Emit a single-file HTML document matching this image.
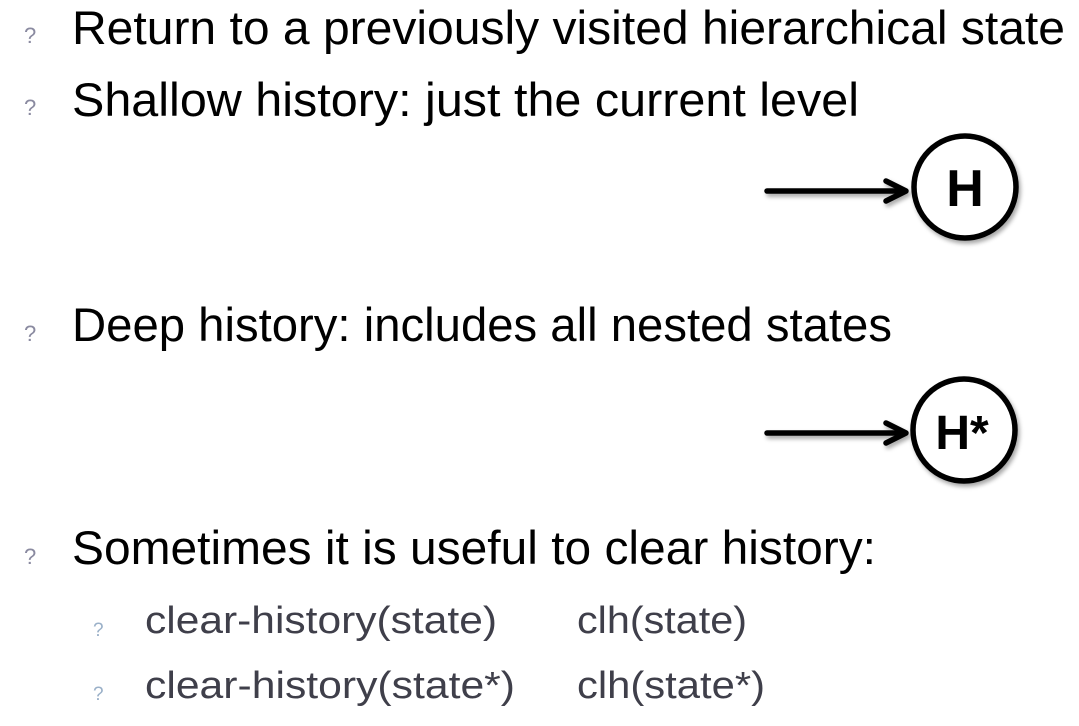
<!DOCTYPE html>
<html><head><meta charset="utf-8"><style>
html,body{margin:0;padding:0;background:#fff;}
svg{display:block;}
text{font-family:"Liberation Sans",sans-serif;}
</style></head><body>
<svg width="1079" height="726" viewBox="0 0 1079 726" xmlns="http://www.w3.org/2000/svg">
<defs>
<filter id="sh" x="-20%" y="-20%" width="140%" height="140%"><feDropShadow dx="2" dy="3" stdDeviation="2" flood-color="#000" flood-opacity="0.35"/></filter>
</defs>
<g fill="#8a8aa0" font-size="22">
<text x="24" y="43">?</text>
<text x="24" y="115">?</text>
<text x="24" y="341">?</text>
<text x="24" y="564">?</text>
<text x="93" y="636" font-size="19" fill="#9ab0c8">?</text>
<text x="93" y="700" font-size="19" fill="#9ab0c8">?</text>
</g>
<g fill="#000" font-size="47">
<text x="72" y="44" textLength="993" lengthAdjust="spacingAndGlyphs">Return to a previously visited hierarchical state</text>
<text x="72" y="116" textLength="787" lengthAdjust="spacingAndGlyphs">Shallow history: just the current level</text>
<text x="72" y="341" textLength="820" lengthAdjust="spacingAndGlyphs">Deep history: includes all nested states</text>
<text x="72" y="564" textLength="804" lengthAdjust="spacingAndGlyphs">Sometimes it is useful to clear history:</text>
</g>
<g fill="#3f3f4a" font-size="38">
<text x="145" y="633" textLength="352" lengthAdjust="spacingAndGlyphs">clear-history(state)</text>
<text x="577" y="633" textLength="170" lengthAdjust="spacingAndGlyphs">clh(state)</text>
<text x="145" y="698" textLength="370" lengthAdjust="spacingAndGlyphs">clear-history(state*)</text>
<text x="577" y="698" textLength="188" lengthAdjust="spacingAndGlyphs">clh(state*)</text>
</g>
<g filter="url(#sh)" stroke="#000" stroke-width="5.5" fill="none" stroke-linecap="round" stroke-linejoin="round">
<line x1="767" y1="191" x2="905" y2="191"/>
<polyline points="886,181 906,191 886,201"/>
<circle cx="965" cy="187" r="51" fill="#fff"/>
<line x1="767" y1="433" x2="905" y2="433"/>
<polyline points="886,423 906,433 886,443"/>
<circle cx="964" cy="430" r="51" fill="#fff"/>
</g>
<text x="965" y="206" font-size="52" font-weight="bold" text-anchor="middle" fill="#000">H</text>
<text x="962" y="449" font-size="48" font-weight="bold" text-anchor="middle" fill="#000">H*</text>
</svg>
</body></html>
